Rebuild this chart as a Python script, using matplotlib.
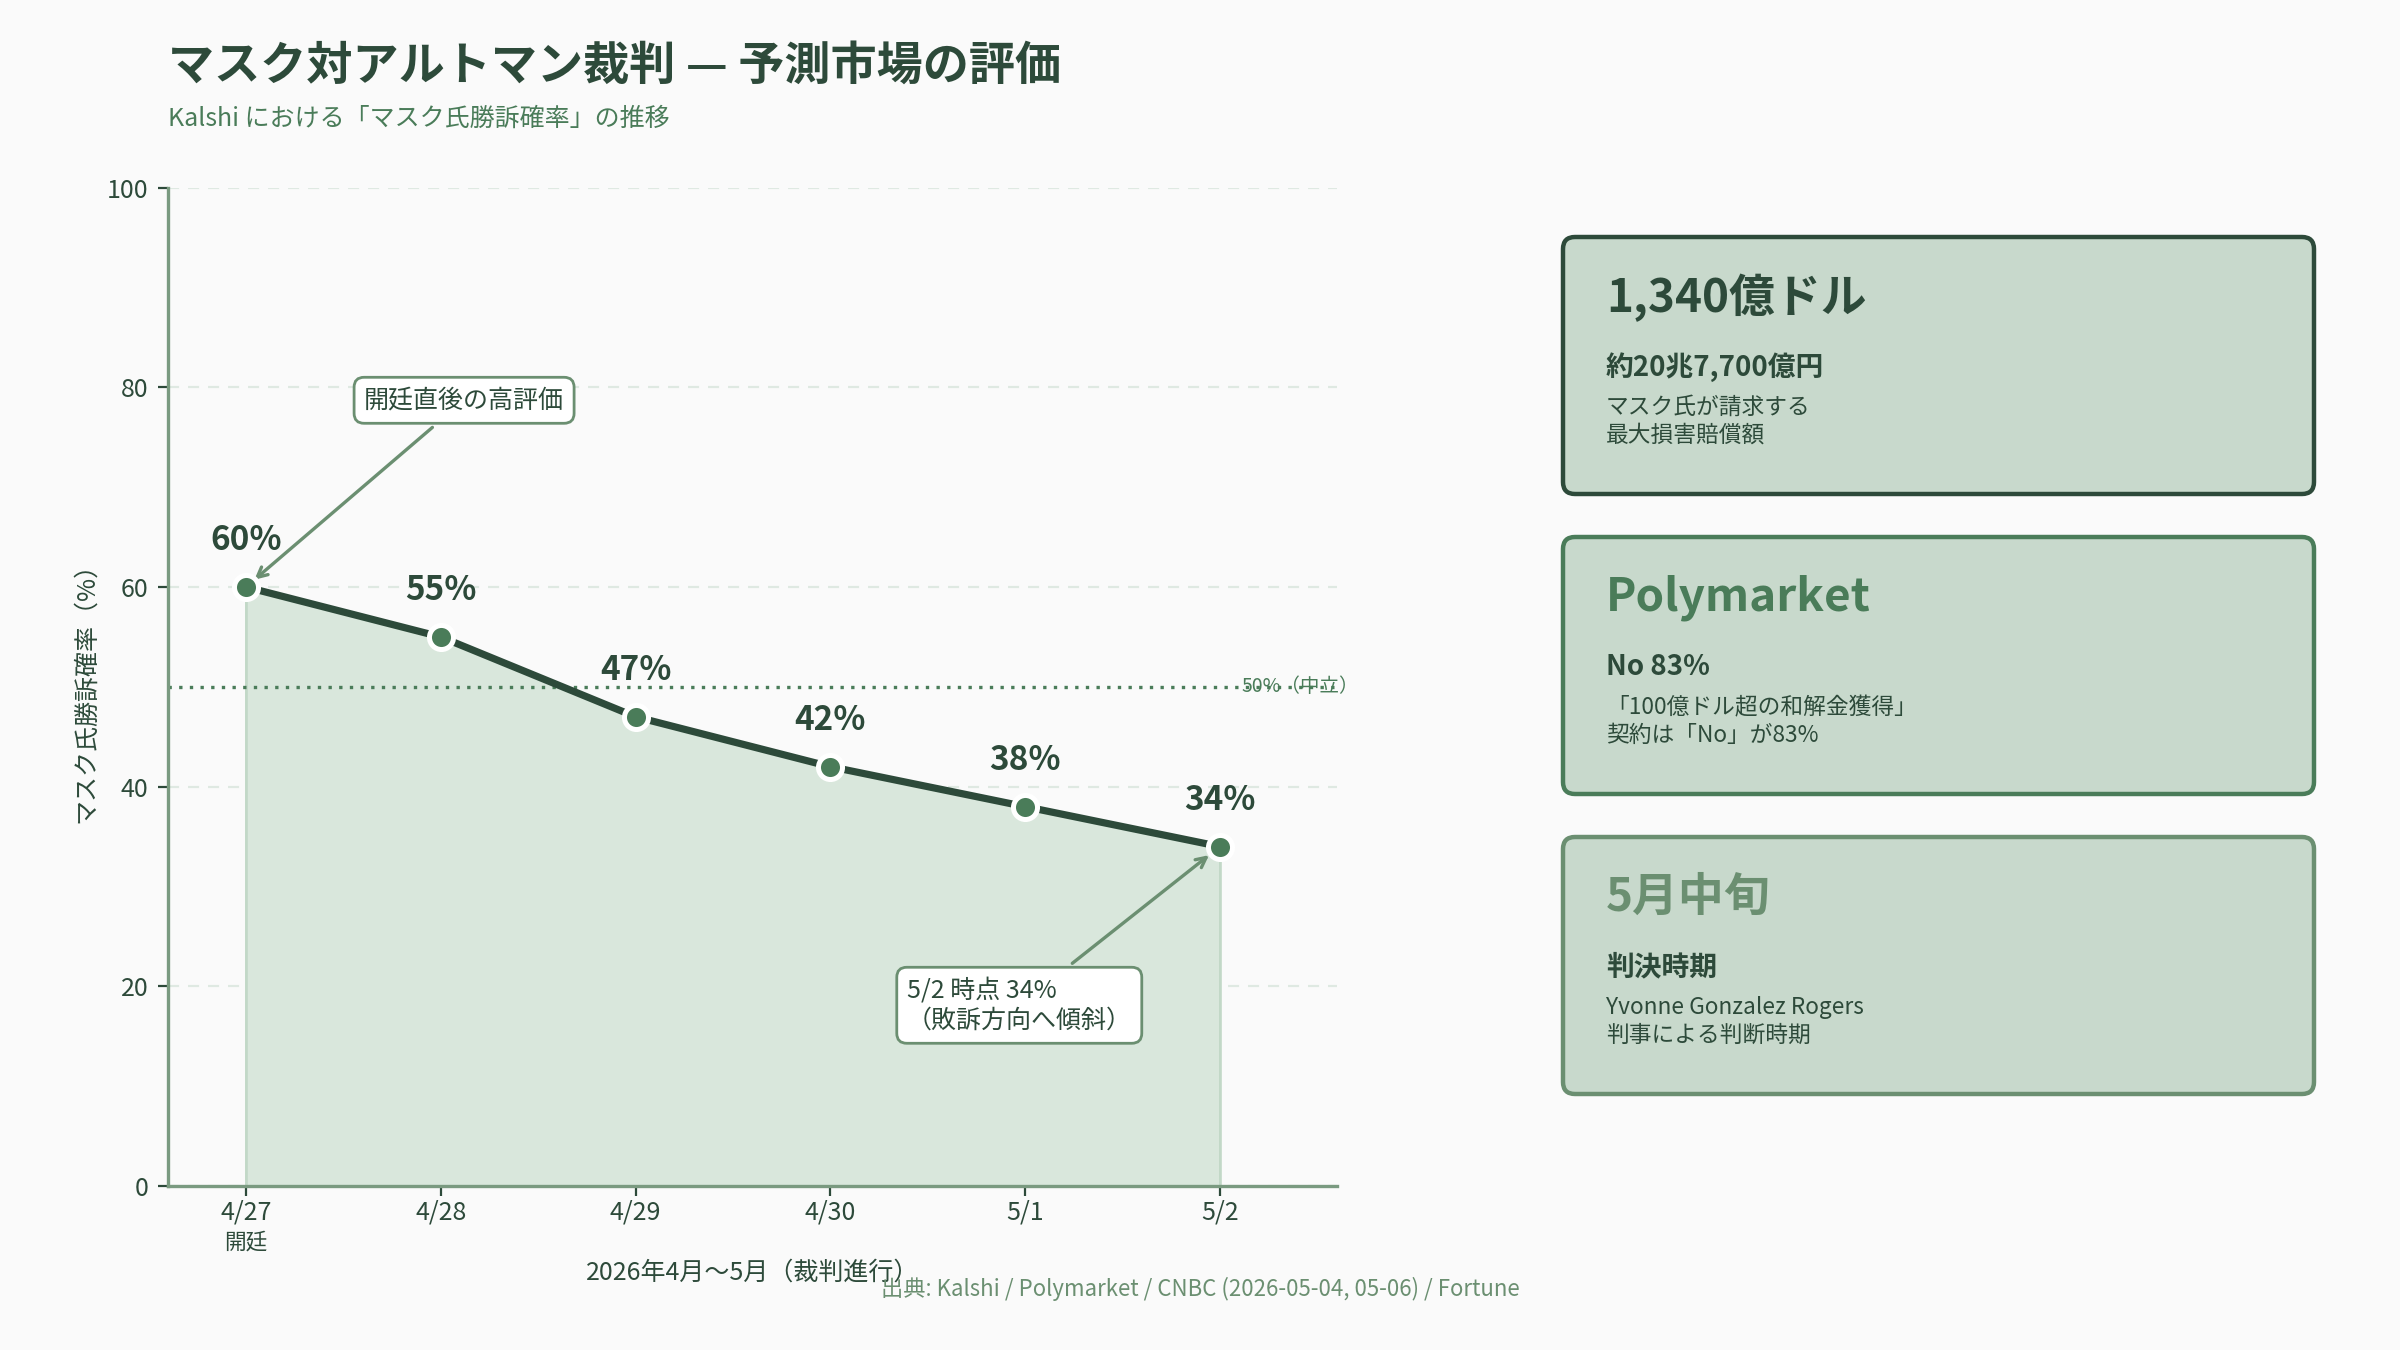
import matplotlib
matplotlib.use("Agg")
import matplotlib.pyplot as plt
from matplotlib.patches import FancyBboxPatch

plt.rcParams['font.family'] = ['Noto Sans CJK JP', 'DejaVu Sans']

# data
dates = ['4/27', '4/28', '4/29', '4/30', '5/1', '5/2']
prob = [60, 55, 47, 42, 38, 34]
neutral = 50

cards = [
    ('1,340億ドル', '約20兆7,700億円', 'マスク氏が請求する\n最大損害賠償額'),
    ('Polymarket', 'No 83%', '「100億ドル超の和解金獲得」\n契約は「No」が83%'),
    ('5月中旬', '判決時期', 'Yvonne Gonzalez Rogers\n判事による判断時期'),
]

DARK = '#2d4a3a'
MID = '#4a7c59'
LIGHT = '#6b8f71'
BG = '#fafafa'
card_edges = [DARK, MID, LIGHT]
card_heads = [DARK, MID, LIGHT]

fig = plt.figure(figsize=(12, 6.75), dpi=200, facecolor=BG)
ax = fig.add_axes([0.07, 0.1215, 0.487, 0.7395])
ax.set_facecolor(BG)

x = list(range(len(dates)))
ax.fill_between(x, prob, 0, facecolor='#d9e7dc', edgecolor='#c2d8c7', lw=1, zorder=1)
ax.plot(x, prob, color=DARK, lw=2.6, zorder=3)
ax.scatter(x, prob, s=75, color=MID, edgecolor='white', linewidth=1.8, zorder=4)

for xi, v in zip(x, prob):
    ax.text(xi, v + 3, f'{v}%', ha='center', va='bottom', fontsize=12,
            fontweight='bold', color=DARK, zorder=5)

ax.axhline(neutral, color=MID, ls=(0, (1, 2.2)), lw=1.2, zorder=2)
ax.text(5.11, neutral, f'{neutral}%（中立）', ha='left', va='center', fontsize=7,
        color=MID, clip_on=False)

ax.annotate('開廷直後の高評価', xy=(x[0], prob[0]), xytext=(1.12, 78.7),
            ha='center', va='center', fontsize=9, color=DARK,
            bbox=dict(boxstyle='round,pad=0.4', fc='white', ec=LIGHT, lw=1),
            arrowprops=dict(arrowstyle='->', color=LIGHT, lw=1.2, shrinkB=4))
ax.annotate(f'{dates[-1]} 時点 {prob[-1]}%\n（敗訴方向へ傾斜）', xy=(x[-1], prob[-1]),
            xytext=(3.97, 18.1), ha='center', va='center', multialignment='left',
            fontsize=9, color=DARK,
            bbox=dict(boxstyle='round,pad=0.4', fc='white', ec=LIGHT, lw=1),
            arrowprops=dict(arrowstyle='->', color=LIGHT, lw=1.2, shrinkB=5))

ax.set_xlim(-0.4, 5.6)
ax.set_ylim(0, 100)
ax.set_xticks(x, dates)
ax.set_yticks(range(0, 101, 20))
ax.tick_params(colors=DARK, labelsize=9)
ax.tick_params(axis='x', pad=1.5)
ax.text(x[0], -0.046, '開廷', transform=ax.get_xaxis_transform(), ha='center',
        va='top', fontsize=7.8, color=DARK)
ax.grid(axis='y', ls=(0, (5, 4)), color='#dfe9e2', lw=0.8)
ax.set_axisbelow(True)
for s in ['top', 'right']:
    ax.spines[s].set_visible(False)
for s in ['left', 'bottom']:
    ax.spines[s].set_color('#7a9a80')
    ax.spines[s].set_linewidth(1.2)
ax.set_xlabel('2026年4月〜5月（裁判進行）', fontsize=9, color=DARK, labelpad=12)
ax.set_ylabel('マスク氏勝訴確率（%）', fontsize=9, color=DARK, labelpad=3)

fig.text(0.07, 0.951, 'マスク対アルトマン裁判 — 予測市場の評価', fontsize=16.6,
         fontweight='bold', color=DARK, va='center')
fig.text(0.07, 0.912, 'Kalshi における「マスク氏勝訴確率」の推移', fontsize=9,
         color=MID, va='center')
fig.text(0.5, 0.045, '出典: Kalshi / Polymarket / CNBC (2026-05-04, 05-06) / Fortune',
         fontsize=8, color=LIGHT, ha='center', va='center')

# cards drawn on a pixel-space overlay
cax = fig.add_axes([0, 0, 1, 1], zorder=-1)
cax.set_xlim(0, 2400)
cax.set_ylim(1350, 0)
cax.axis('off')
tops = [237, 537, 837]
for (head, sub, body), top, ec, hc in zip(cards, tops, card_edges, card_heads):
    cax.add_patch(FancyBboxPatch((1563, top), 751, 257,
                                 boxstyle='round,pad=0,rounding_size=12',
                                 fc='#c8d9cc', ec=ec, lw=1.6))
    cax.text(1606, top + 61, head, fontsize=16.5, fontweight='bold', color=hc, va='center')
    cax.text(1606, top + 130, sub, fontsize=10, fontweight='bold', color=DARK, va='center')
    cax.text(1606, top + 159, body, fontsize=8.2, color=DARK, va='top', linespacing=1.25)

fig.savefig('out.png', dpi=200, facecolor=BG)
